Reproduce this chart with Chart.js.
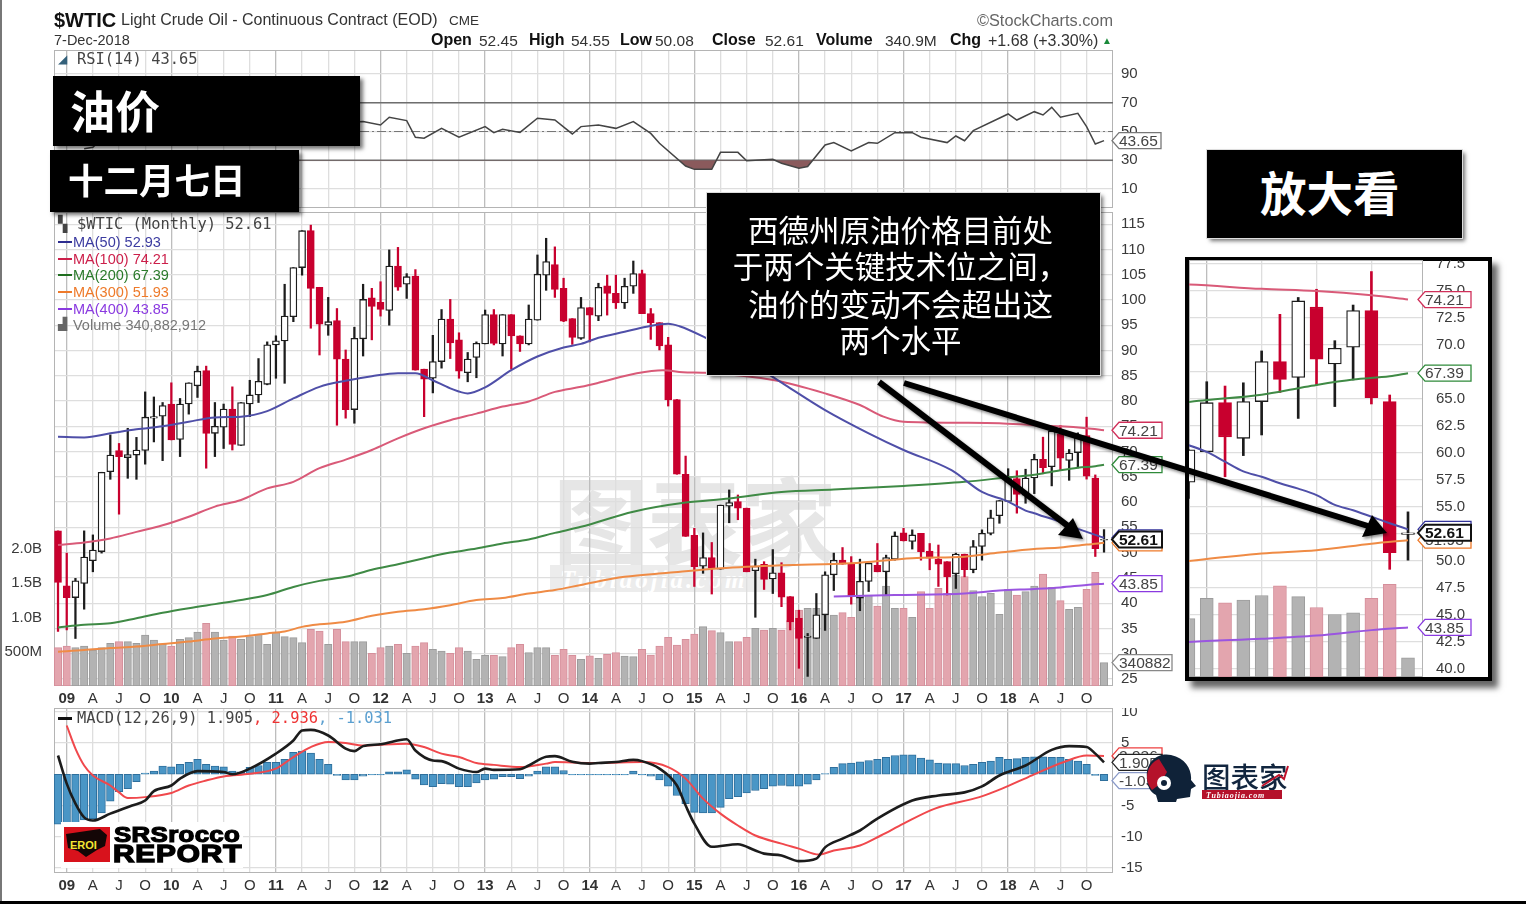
<!DOCTYPE html>
<html lang="zh"><head><meta charset="utf-8"><title>WTIC</title>
<script src="https://cdn.jsdelivr.net/npm/chart.js@4"></script>
<style>
html,body{margin:0;padding:0;background:#fff;width:1526px;height:904px;overflow:hidden}
canvas{position:absolute;filter:blur(.45px);z-index:2}
.t{position:absolute;white-space:pre;font-family:"Liberation Sans",sans-serif;color:#333;line-height:1;filter:blur(.3px);z-index:3}
.m{font-family:"DejaVu Sans Mono",monospace;font-size:15.4px;color:#444}
.b{font-weight:700;color:#111}
.box{position:absolute;background:#000;color:#fff;z-index:5;font-family:"Noto Sans CJK SC",sans-serif;box-shadow:3px 3px 4px rgba(0,0,0,.55)}
.box div{position:absolute;white-space:pre;line-height:1}
#inset{position:absolute;left:1185px;top:257px;width:299px;height:416px;border:4px solid #000;background:#fff;box-shadow:6px 7px 6px rgba(0,0,0,.6);z-index:1}
.wm{position:absolute;z-index:1;white-space:pre;font-family:"Noto Sans CJK SC",sans-serif;line-height:1}
svg{position:absolute;left:0;top:0;z-index:7}
</style></head><body>
<div style="position:absolute;left:0;top:0;width:2px;height:904px;background:#777;z-index:8"></div>
<div style="position:absolute;left:0;top:901px;width:1526px;height:3px;background:#000;z-index:8"></div>

<div class="wm" style="left:553px;top:469px;font-size:96px;font-weight:700;color:#e6e6e6;letter-spacing:-2px">图表家</div>
<div style="position:absolute;left:550px;top:565px;width:232px;height:27px;background:#ececec;z-index:1"></div>
<div class="wm" style="left:560px;top:566px;font:italic 700 25px 'Liberation Serif';color:#fff;letter-spacing:3px">Tubiaojia.com</div>

<canvas id="rsi" width="1180" height="158" style="left:0;top:50px"></canvas>
<canvas id="main" width="1180" height="496" style="left:0;top:212px"></canvas>
<canvas id="macd" width="1180" height="188" style="left:0;top:708px"></canvas>
<div id="inset"></div>
<canvas id="zoomc" width="290" height="417" style="left:1189px;top:260px;z-index:4"></canvas>

<div class="t b" style="left:54px;top:10px;font-size:20px">$WTIC</div>
<div class="t" style="left:121px;top:12px;font-size:16px">Light Crude Oil - Continuous Contract (EOD)</div>
<div class="t" style="left:449px;top:14px;font-size:13.5px">CME</div>
<div class="t" style="left:977px;top:12px;font-size:16.3px;color:#666">©StockCharts.com</div>
<div class="t" style="left:54px;top:33px;font-size:14.5px">7-Dec-2018</div>
<div class="t b" style="left:431px;top:32px;font-size:16px">Open</div><div class="t" style="left:479px;top:33px;font-size:15.5px">52.45</div>
<div class="t b" style="left:529px;top:32px;font-size:16px">High</div><div class="t" style="left:571px;top:33px;font-size:15.5px">54.55</div>
<div class="t b" style="left:620px;top:32px;font-size:16px">Low</div><div class="t" style="left:655px;top:33px;font-size:15.5px">50.08</div>
<div class="t b" style="left:712px;top:32px;font-size:16px">Close</div><div class="t" style="left:765px;top:33px;font-size:15.5px">52.61</div>
<div class="t b" style="left:816px;top:32px;font-size:16px">Volume</div><div class="t" style="left:885px;top:33px;font-size:15.5px">340.9M</div>
<div class="t b" style="left:950px;top:32px;font-size:16px">Chg</div><div class="t" style="left:988px;top:33px;font-size:16px">+1.68 (+3.30%)</div>
<div class="t" style="left:1102px;top:36px;font-size:10px;color:#1a8a3a">▲</div>

<div class="t m" style="left:58px;top:52px;color:#33607a">◢</div>
<div class="t m" style="left:77px;top:52px">RSI(14) 43.65</div>
<div class="t m" style="left:58px;top:217px">▚</div>
<div class="t m" style="left:77px;top:217px">$WTIC (Monthly) 52.61</div>
<div class="t" style="left:58px;top:241px;width:14px;height:2px;background:#2d2d90"></div><div class="t" style="left:73px;top:235px;font-size:14.5px;color:#3b3ba0">MA(50) 52.93</div>
<div class="t" style="left:58px;top:258px;width:14px;height:2px;background:#cc1f4a"></div><div class="t" style="left:73px;top:252px;font-size:14.5px;color:#cc1f4a">MA(100) 74.21</div>
<div class="t" style="left:58px;top:274px;width:14px;height:2px;background:#1f6e1f"></div><div class="t" style="left:73px;top:268px;font-size:14.5px;color:#2a7a2a">MA(200) 67.39</div>
<div class="t" style="left:58px;top:291px;width:14px;height:2px;background:#ee7a2a"></div><div class="t" style="left:73px;top:285px;font-size:14.5px;color:#ee7a2a">MA(300) 51.93</div>
<div class="t" style="left:58px;top:308px;width:14px;height:2px;background:#8a3ae0"></div><div class="t" style="left:73px;top:302px;font-size:14.5px;color:#8a3ae0">MA(400) 43.85</div>
<div class="t" style="left:58px;top:318px;font-size:12px;color:#666">▟</div><div class="t" style="left:73px;top:318px;font-size:14.5px;color:#777">Volume 340,882,912</div>
<div class="t" style="left:58px;top:717px;width:14px;height:3px;background:#111"></div>
<div class="t m" style="left:77px;top:711px">MACD(12,26,9) 1.905<span style="color:#ee3333">, 2.936</span><span style="color:#5a9fd0">, -1.031</span></div>

<div class="box" style="left:53px;top:76px;width:307px;height:70px"><div style="left:17px;top:11px;font-size:45px;font-weight:700">油价</div></div>
<div class="box" style="left:50px;top:150px;width:249px;height:62px"><div style="left:18px;top:11px;font-size:35.5px;font-weight:700">十二月七日</div></div>
<div class="box" style="left:1207px;top:150px;width:255px;height:88px;outline:1px solid #ddd"><div style="left:53px;top:18px;font-size:46.5px;font-weight:700">放大看</div></div>
<div class="box" style="left:707px;top:193px;width:393px;height:182px;outline:1px solid #ddd">
<div style="left:-3px;width:393px;text-align:center;top:21px;font-size:30.5px">西德州原油价格目前处</div>
<div style="left:-3px;width:393px;text-align:center;top:57px;font-size:30.5px">于两个关键技术位之间，</div>
<div style="left:-3px;width:393px;text-align:center;top:95px;font-size:30.5px">油价的变动不会超出这</div>
<div style="left:-3px;width:393px;text-align:center;top:131px;font-size:30.5px">两个水平</div>
</div>

<div style="position:absolute;left:61px;top:822px;width:182px;height:46px;background:#fff;z-index:6"></div>
<div class="t" style="left:114px;top:825px;font-size:21.5px;font-weight:700;color:#000;-webkit-text-stroke:1.2px #000;z-index:6;letter-spacing:.3px;transform:scaleX(1.2);transform-origin:0 0">SRSrocco</div>
<div class="t" style="left:113px;top:842px;font-size:24px;font-weight:700;color:#000;-webkit-text-stroke:1.4px #000;z-index:6;letter-spacing:.7px;transform:scaleX(1.24);transform-origin:0 0">REPORT</div>
<div class="t" style="left:1202px;top:762px;font-family:'Noto Sans CJK SC';font-size:28.5px;color:#12263f;z-index:6;font-weight:500">图表家</div>
<div style="position:absolute;left:1202px;top:790px;width:80px;height:9px;background:#b5122b;z-index:6"></div>
<div class="t" style="left:1206px;top:791px;font:italic 700 8px 'Liberation Serif';color:#fff;letter-spacing:.9px;z-index:6">Tubiaojia.com</div>

<svg width="1526" height="904" viewBox="0 0 1526 904">
<defs><filter id="sh" x="-10%" y="-10%" width="120%" height="120%"><feDropShadow dx="1.5" dy="2" stdDeviation="1.4" flood-color="#000" flood-opacity=".45"/></filter></defs>
<g filter="url(#sh)" fill="#000">
<line x1="879" y1="382" x2="1068" y2="526" stroke="#000" stroke-width="6"/>
<polygon points="1083,539 1058,535 1073,518"/>
<line x1="904" y1="383" x2="1368" y2="526" stroke="#000" stroke-width="6"/>
<polygon points="1387,533 1362,537 1372,515"/>
</g>
<rect x="64" y="827" width="46" height="35" fill="#d8121c"/>
<path d="M66 834 L100 829 L107 835 L105 846 L97 850 L86 857 L78 851 L68 848 Z" fill="#140606"/>
<text x="70" y="849" font-family="Liberation Sans" font-weight="700" font-size="11" fill="#f5e633">EROI</text>
<path d="M1147 778 C1145 762 1158 752 1171 755 C1186 758 1192 770 1191 780 L1196 786 L1191 789 L1190 797 L1177 799 L1176 802 L1158 802 L1156 795 C1150 792 1147 786 1147 778Z" fill="#0f2238"/>
<path d="M1147 778 C1147 768 1152 762 1159 759 L1167 772 L1160 784 L1152 790 C1149 786 1147 782 1147 778Z" fill="#b5122b"/>
<circle cx="1164" cy="783" r="7" fill="#fff"/><circle cx="1164" cy="783" r="3" fill="#0f2238"/>
<path d="M1262 786 L1279 775 L1284 779 L1288 766" fill="none" stroke="#c0122b" stroke-width="2"/>
</svg>

<script>
// ---- categories / ticks ----
const xTickIdx=[1,4,7,10,13,16,19,22,25,28,31,34,37,40,43,46,49,52,55,58,61,64,67,70,73,76,79,82,85,88,91,94,97,100,103,106,109,112,115,118];
const xTickLabels=["09","A","J","O","10","A","J","O","11","A","J","O","12","A","J","O","13","A","J","O","14","A","J","O","15","A","J","O","16","A","J","O","17","A","J","O","18","A","J","O"];
const priceTicks=[25,30,35,40,45,50,55,60,65,70,75,80,85,90,95,100,105,110,115];
const insetTicks=[40,42.5,45,47.5,50,52.5,55,57.5,60,62.5,65,67.5,70,72.5,75,77.5];
const volTicks=[500,1000,1500,2000];
const volTickLabels=["500M","1.0B","1.5B","2.0B"];
const rsiTicks=[10,30,50,70,90];
const macdTicks=[-15,-10,-5,5,10];
// ---- candles ----
const opens=[54.3,43.4,41.1,43.9,48.4,50.2,66.0,70.2,68.8,69.3,70.2,76.6,77.0,79.4,72.4,79.4,83.0,86.0,73.6,74.8,78.4,71.2,79.4,81.2,83.3,91.1,91.9,96.7,106.4,113.7,102.5,95.0,95.9,88.3,78.3,92.3,100.4,99.5,97.9,106.7,103.1,104.7,86.3,84.5,87.8,96.2,92.1,85.6,88.6,91.3,97.1,91.3,97.1,92.9,91.3,96.0,104.9,107.0,102.3,96.3,92.4,98.5,96.8,102.8,101.3,99.4,102.7,105.2,97.3,95.5,91.1,80.3,65.5,53.4,47.3,49.0,46.7,59.2,60.1,58.8,46.4,47.7,44.8,46.0,41.3,37.0,33.2,33.0,37.7,45.6,48.5,47.7,41.0,44.3,47.5,46.2,48.7,53.9,52.2,53.8,50.3,48.7,48.2,45.8,49.7,46.6,51.2,53.8,57.3,60.13,64.66,61.36,64.76,68.46,67.0,73.5,68.25,69.79,73.18,64.76,52.45];
const closes=[44.1,41.1,44.4,49.1,50.5,65.9,69.3,69.0,69.4,70.3,76.8,76.9,79.1,72.3,79.4,83.6,85.9,73.6,75.0,78.4,71.4,79.7,81.2,83.9,91.1,91.9,96.8,106.4,113.7,102.3,95.2,95.7,88.3,78.3,92.4,100.1,98.7,98.1,106.7,102.5,104.6,86.1,84.3,87.8,96.2,91.5,85.9,88.3,91.4,97.1,91.4,97.1,92.9,91.3,96.2,105.1,107.6,102.1,95.8,92.6,98.5,97.0,102.5,101.3,99.4,102.7,105.2,97.3,95.5,90.9,80.2,65.5,53.2,47.2,49.0,46.9,59.4,59.9,58.8,46.2,47.3,44.7,46.0,41.2,36.3,33.0,33.5,37.7,45.6,48.5,47.7,41.3,44.3,47.9,46.2,49.0,53.3,52.3,53.5,50.2,48.9,47.7,45.2,49.7,46.6,51.2,53.8,56.9,60.3,64.66,61.5,64.76,68.46,66.82,74.08,68.68,69.7,73.18,65.13,50.78,52.61];
const highs=[54.3,49.9,44.9,54.3,53.5,65.9,73.3,71.6,74.6,72.8,81.8,80.8,79.7,83.6,80.5,83.6,86.9,86.9,79.7,79.4,82.8,79.7,84.1,88.4,91.7,92.9,103.1,106.4,113.7,114.8,102.5,100.5,98.3,90.1,94.6,103.1,102.3,103.6,109.9,110.4,105.2,106.0,86.3,93.0,98.1,100.1,93.5,89.6,91.7,98.0,98.1,97.1,97.1,92.9,99.0,108.9,112.2,110.5,104.3,96.3,100.5,98.5,103.3,104.9,104.9,104.3,107.7,105.9,98.3,95.5,92.6,80.3,69.1,54.8,53.9,52.0,59.4,62.4,61.4,58.8,48.7,48.2,50.6,48.0,41.3,38.6,34.0,41.9,46.2,49.9,51.0,49.2,48.7,47.9,51.8,49.5,54.1,54.8,54.5,53.8,51.8,51.5,48.2,49.9,49.7,52.4,54.5,58.4,60.3,66.6,66.2,66.5,69.45,72.84,74.4,75.16,70.4,73.7,76.8,65.37,54.55];
const lows=[34.4,34.7,33.0,38.8,46.2,49.9,64.5,57.6,64.7,64.5,67.5,71.9,68.2,72.3,69.0,77.4,80.7,66.7,69.0,70.6,70.3,71.2,76.9,79.7,83.2,84.5,83.5,95.7,104.9,94.4,89.1,93.0,75.2,76.6,75.6,88.9,92.1,96.8,95.0,101.9,100.3,86.1,76.9,81.6,86.5,88.4,84.5,83.8,84.6,91.3,91.1,88.9,86.3,89.8,91.1,96.0,101.9,100.5,95.7,91.2,92.2,91.7,95.9,97.0,98.3,98.3,101.3,97.3,92.2,90.1,79.0,65.5,53.2,43.3,45.9,41.8,46.7,55.9,56.5,46.2,37.2,42.7,41.9,39.3,34.7,27.1,25.5,33.0,34.6,42.5,47.7,39.8,38.5,42.3,46.2,41.6,48.5,52.3,50.7,48.5,46.6,43.3,41.6,42.9,45.2,46.0,48.5,53.5,55.8,60.1,57.8,59.76,61.67,65.6,63.2,66.3,64.3,66.76,64.54,49.23,50.08];
// ---- volume, millions ----
const volumes=[559,583,559,583,525,559,622,646,646,622,744,671,608,583,680,705,787,914,787,671,729,680,719,753,608,787,719,705,632,826,802,608,826,646,646,646,476,559,583,608,476,583,632,535,510,476,559,510,389,447,447,428,559,608,486,559,559,447,535,447,389,440,403,462,486,437,428,535,452,583,710,598,680,758,865,807,778,646,646,710,841,816,841,816,953,1108,1132,1132,1035,1035,1069,1001,1302,1327,1166,1458,1132,1132,1001,1375,1132,1424,1351,1618,1594,1390,1302,1351,1045,1409,1327,1375,1458,1633,1439,1244,1118,1147,1409,1657,341];
// ---- moving averages (month index + value) ----
const ma50X=[0,3,6,9,12,15,18,21,24,27,30,33,36,39,41,43,45,47,49,52,55,58,60,62,65,67.5,70,71.3,74.2,78,83.4,88,93,97,102.5,106,109,110,111,112,113,114,115,116,117,118,119,120];
const ma50Y=[72.9,72.8,73.6,74.4,75,75.9,76.75,76.9,78,80.5,82.8,84,84.9,85.5,85.5,84.1,82.5,81.5,82.7,86.1,88.8,90.6,91.3,92.5,93.7,94.7,95.3,94.8,92.6,89.1,83.2,78.2,73.6,70.3,66.3,62,60.1,59.2,58.3,57.8,57.2,56.7,56.1,55.2,54.7,54.1,53.5,52.93];
const ma100X=[0,3,6,9,12,15,18,21,24,27,30,33,36,39,42,45,48,51,54,57,60,62,66.4,69.4,71.7,74.2,82.2,88,92,94.7,97,104,108,112,115,118,120];
const ma100Y=[51.5,52,52.8,54.1,55.4,57.1,59.1,60.4,62.7,64,66.7,68.4,70.3,72.6,74.6,76.2,77.5,78.9,79.9,81.8,82.8,83.6,85.5,86.1,85.7,85.6,84.1,81.5,79.2,76.9,75.9,75.7,75.6,75.2,75,74.6,74.21];
const ma200X=[0,3,6,9,12,15,18,21,24,27,30,33,36,39,42,45,48,51,54,57,60,66,72,77,83,89,97,104,109,112,114,115,117,119,120];
const ma200Y=[35.2,35.7,36,37,38.1,39,39.8,40.6,41.6,43.2,44.4,45.2,46.6,47.7,48.9,50,50.8,51.8,52.6,53.9,55.1,58.1,59.9,60.7,62,62.5,63.2,64,64.9,65.4,66,66.3,66.8,67.1,67.39];
const ma300X=[0,3,6,9,12,15,18,21,24,26,28,30,33,36,39,42,45,48,51,54,57,60,65,70,76,83,91,98,104,108,112,115,118,120];
const ma300Y=[30.4,30.7,31.1,31.4,31.9,32.4,33,33.4,34,34.4,35.3,35.8,36.3,37.5,38.3,38.8,39.6,40.6,41,41.9,42.6,43.6,45.2,46,46.9,47.5,47.9,48.9,49.2,50,50.7,51,51.6,51.93];
const ma400X=[89,96,104,108,112,115,118,120];
const ma400Y=[41.3,41.6,41.9,42.5,42.8,43.1,43.6,43.85];
// ---- RSI ----
const rsiX=[3,4,8,16,26,30,35,37,38,40,41,42,44,46,49,50,51,53,55,57,59,60,62,64,66,68,69,72,73,75,76,78,79,82,83,85,86,88,89,91,93,94,96,98,99,102,103,104,105,109,110,112,113,114,115,117,118,119,120];
const rsiY=[38,39,62,60,68,55,56.9,54.5,59.9,57.6,46,45.3,52.2,46,53.4,49.2,51.5,49.4,59.2,58,48.3,53.4,54.5,52.2,56.9,48.7,41.8,26,23.7,23.7,35.5,35.5,29.7,30.7,27.9,24.4,25.6,40.6,42.3,36.5,42.3,41.8,49.2,49.2,46,42.3,46.9,43.6,50.6,62.2,58,63.8,61.5,66.8,59.9,62.7,53.4,41.3,43.65];
// ---- MACD ----
const macdX=[0,1,2,3,4,6,8.5,10,11,13,14,16,19,20,22,25,27,28,29,31,33,34,35,37,40,41,43,44,46,48,49,50,53,54,56,57,59,61,62,64,66,67,69,71,72,73,75,78,80,81,83,85,87,88,90,92,94,98,101,104,106,108,111,114,116,118,119,120];
const macdY=[3,-1.5,-4.7,-6.9,-7.4,-6.3,-5,-4.2,-2.7,-1.8,-0.7,0.5,0.35,0,0.9,3.3,5.4,7,7.1,6.2,4.1,3.7,4.5,4.8,5.6,3.8,2.2,2.1,0.9,0.35,0.9,0.7,0.8,1.4,2.8,2.9,2,1.7,1.8,1.95,2.3,2.1,0.9,-1.8,-5,-7.9,-11.6,-11.2,-12.2,-12.7,-13,-13.9,-13.5,-11.7,-10.3,-9,-7.1,-4.2,-3.4,-2.9,-1.95,-0.2,1.4,3.9,4.5,4.35,3.3,1.905];
const signalX=[1,2,3,4,6,7,8,10,13,15,17,19,22,25,27,29,31,33,35,40,42,44,46,48,50,53,56,57,61,62,67,70,72,74,76,78,80,83,85,87.3,89,92,94.4,97,100.6,105.7,108.3,111.3,115.4,118,120];
const signalY=[7.8,4.1,1.4,-0.2,-1.8,-2.9,-3.8,-3.66,-3,-1.8,-1,-0.35,0.08,0.9,2.75,4.35,5.16,5,4.6,4.9,4.35,3.3,2.75,1.8,1.5,1.15,1.7,1.95,1.8,1.8,1.95,1.15,-0.7,-3.9,-6.3,-8.2,-9.8,-11.1,-11.9,-12.85,-12.2,-11.4,-9.8,-7.9,-5.5,-3.66,-2.3,-0.45,1.95,3,2.936];
const histY=[-8,-8,-7.8,-7.3,-7.1,-6.2,-4.3,-2.8,-2.3,-1.2,0.2,0.5,1.3,1.2,1.6,1.9,2.4,1.6,1.3,1.2,0.5,0.4,1.1,1.4,1.9,1.9,2.4,3.5,3.7,3.4,2.4,1.6,-0.2,-0.9,-0.9,-0.3,-0.1,-0.1,0.4,0.4,0.7,-0.8,-1.7,-2,-1.5,-1.6,-2,-2,-1.4,-0.9,-0.8,-0.4,-0.4,-0.7,-0.3,0.5,1.2,1.2,0.6,-0.1,-0.1,-0.1,-0.1,-0.1,-0.1,-0.1,0.5,-0.1,-0.3,-0.9,-1.9,-3.4,-4.7,-6.1,-6.2,-6.2,-5.3,-3.9,-3.6,-3,-2.6,-2.3,-1.9,-1.8,-1.9,-1.9,-1.6,-0.9,0.1,1.1,1.7,1.8,2,2.2,2.4,2.7,3,3.1,3.1,2.6,2.3,1.8,1.7,1.7,1.4,1.6,1.9,2.1,2.7,2.4,2.5,2.7,2.8,2.8,2.7,2.7,2.4,2.1,1.6,-0.2,-1.03];

// ---- helpers ----
const pts=(xs,ys)=>xs.map((x,k)=>({x,y:ys[k]}));
const RED='#c8002e';
const isDown=i=>closes[i]<opens[i];
const idx=opens.map((_,i)=>i);
const wickData=idx.map(i=>({x:i,y:[lows[i],highs[i]]}));
const bodyData=idx.map(i=>({x:i,y:[opens[i],closes[i]]}));
const volData=idx.map(i=>({x:i,y:volumes[i]}));
const FONT='"Liberation Sans"';
const noPad=s=>{s.paddingTop=0;s.paddingBottom=0;s.paddingLeft=0;s.paddingRight=0;};
const tagPlugin={id:'tags',afterDraw(c,a,o){const g=c.ctx;
  (o.list||[]).forEach(t=>{const y=c.scales[t.s].getPixelForValue(t.v),h=t.h||8,x0=t.x0,x1=t.x1;
    g.save();g.beginPath();g.moveTo(x0,y);g.lineTo(x0+7,y-h);g.lineTo(x1,y-h);g.lineTo(x1,y+h);g.lineTo(x0+7,y+h);g.closePath();
    g.fillStyle='#fff';g.fill();g.lineWidth=t.lw||1.3;g.strokeStyle=t.c;g.stroke();
    g.fillStyle=t.tc||'#444';g.font=(t.bold?'700 ':'')+(t.fs||15.5)+'px '+FONT;g.textBaseline='middle';g.textAlign='left';g.fillText(t.t,x0+7,y+1);g.restore();});
}};
const framePlugin={id:'frame',beforeDatasetsDraw(c){const g=c.ctx,a=c.chartArea;g.save();g.strokeStyle='#b4b4b4';g.lineWidth=1;g.strokeRect(a.left+.5,a.top+.5,a.right-a.left-1,a.bottom-a.top-1);g.restore();}};
const gridColor=ctx=>{const v=ctx.tick?ctx.tick.value:0;return ((v-1)%12===0)?'#bdbdbd':'#dedede';};
const isYearTick=v=>/\d/.test(xTickLabels[xTickIdx.indexOf(v)]||'');
function xAxis(h,showLabels,min,max){return {type:'linear',min,max,offset:false,
  grid:{color:gridColor,lineWidth:1.3,offset:false,drawTicks:false},border:{display:false},
  afterBuildTicks:s=>{s.ticks=xTickIdx.filter(v=>v>=min&&v<=max).map(v=>({value:v}));},
  afterFit:s=>{s.height=h;noPad(s);},
  ticks:{display:showLabels,autoSkip:false,maxRotation:0,minRotation:0,padding:4,
    callback:v=>xTickLabels[xTickIdx.indexOf(v)],
    font:ctx=>({family:FONT,size:15,weight:(ctx.tick&&isYearTick(ctx.tick.value))?'700':'400'}),
    color:'#333'}};}
function yAxis(ticks,min,max,w,pad,fmt,pos){return {type:'linear',position:pos||'right',min,max,
  grid:{color:'#dedede',lineWidth:1.2,drawTicks:false},border:{display:false},
  afterBuildTicks:s=>{s.ticks=ticks.map(v=>({value:v}));},
  afterFit:s=>{s.width=w;noPad(s);},
  ticks:{padding:pad,autoSkip:false,callback:fmt||(v=>v),font:{family:FONT,size:15},color:'#3a3a3a'}};}
const mk=(id,cfg)=>new Chart(document.getElementById(id),Object.assign(cfg,{plugins:[framePlugin,tagPlugin]}));
const base={responsive:false,animation:false,devicePixelRatio:1,events:[]};
const maLine=(xs,ys,c,w,yid)=>({type:'line',data:pts(xs,ys),borderColor:c,borderWidth:w,pointRadius:0,cubicInterpolationMode:'monotone',order:1,yAxisID:yid||'y',fill:false});
const priceSets=(bw,ww,vw)=>[
  {type:'bar',data:volData,yAxisID:'vol',barThickness:vw,grouped:false,order:9,
   backgroundColor:idx.map(i=>isDown(i)?'#e3a5ae':'#b3b3b3'),borderColor:idx.map(i=>isDown(i)?'#d58f9b':'#9c9c9c'),borderWidth:1,borderSkipped:false},
  {type:'bar',data:wickData,yAxisID:'y',barThickness:ww,grouped:false,order:8,backgroundColor:idx.map(i=>isDown(i)?RED:'#1c1c1c'),borderWidth:0},
  {type:'bar',data:bodyData,yAxisID:'y',barThickness:bw,grouped:false,order:7,backgroundColor:idx.map(i=>isDown(i)?RED:'#fff'),borderColor:idx.map(i=>isDown(i)?RED:'#1c1c1c'),borderWidth:1.3,borderSkipped:false},
  maLine(ma50X,ma50Y,'#4f4fa8',2),maLine(ma100X,ma100Y,'#d95a78',2),maLine(ma200X,ma200Y,'#3f8a45',2),maLine(ma300X,ma300Y,'#ef8b45',2),maLine(ma400X,ma400Y,'#9a55e0',2)];

// ---- RSI panel ----
const XMIN=-0.46,XMAX=121.03;
mk('rsi',{type:'line',data:{datasets:[
  {data:pts([XMIN,XMAX],[70,70]),borderColor:'#6e6e6e',borderWidth:1.6,pointRadius:0,order:3},
  {data:pts([XMIN,XMAX],[50,50]),borderColor:'#777',borderWidth:1.2,borderDash:[9,3,2,3],pointRadius:0,order:3},
  {data:pts([XMIN,XMAX],[30,30]),borderColor:'#6e6e6e',borderWidth:1.6,pointRadius:0,order:3},
  {data:pts(rsiX,rsiY),borderColor:'#444',borderWidth:1.5,pointRadius:0,order:1,fill:{target:{value:30},above:'rgba(0,0,0,0)',below:'#8a5a5c'}}
]},options:Object.assign({},base,{layout:{padding:{left:54}},
  plugins:{legend:{display:false},tooltip:{enabled:false},tags:{list:[{s:'y',v:43.65,t:'43.65',c:'#777',x0:1112,x1:1161,h:8}]}},
  scales:{x:xAxis(0,false,XMIN,XMAX),y:yAxis(rsiTicks,-3.2,106.7,67,8)}})});

// ---- price panel ----
mk('main',{type:'bar',data:{datasets:priceSets(7,1.6,7.4)},options:Object.assign({},base,{layout:{padding:0},
  plugins:{legend:{display:false},tooltip:{enabled:false},tags:{list:[
   {s:'y',v:43.85,t:'43.85',c:'#8a3ae0',x0:1112,x1:1162},
   {s:'y',v:67.39,t:'67.39',c:'#2f8a3a',x0:1112,x1:1162},
   {s:'y',v:74.21,t:'74.21',c:'#d0305a',x0:1112,x1:1162},
   {s:'y',v:51.93,t:'51.93',c:'#ee7a2a',x0:1112,x1:1162},
   {s:'y',v:52.93,t:'52.93',c:'#33339a',x0:1112,x1:1162},
   {s:'y',v:52.61,t:'52.61',c:'#111',tc:'#111',bold:true,lw:2,x0:1112,x1:1162},
   {s:'vol',v:340.88,t:'340882',c:'#888',x0:1112,x1:1172}]}},
  scales:{x:xAxis(22,true,XMIN,XMAX),
    y:yAxis(priceTicks,23.6,117.4,67,8),
    vol:Object.assign(yAxis(volTicks,0,6910,54,4,v=>volTickLabels[volTicks.indexOf(v)],'left'),{grid:{display:false}})}})});

// ---- MACD panel ----
mk('macd',{type:'bar',data:{datasets:[
  {type:'bar',data:idx.map(i=>({x:i,y:histY[i]})),barThickness:7.6,grouped:false,order:5,backgroundColor:'#4a96c6',borderColor:'#2f6f9c',borderWidth:1,borderSkipped:false},
  {type:'line',data:pts(signalX,signalY),borderColor:'#f0484c',borderWidth:2,pointRadius:0,cubicInterpolationMode:'monotone',order:2},
  {type:'line',data:pts(macdX,macdY),borderColor:'#1c1c1c',borderWidth:2.6,pointRadius:0,cubicInterpolationMode:'monotone',order:1}
]},options:Object.assign({},base,{layout:{padding:{left:54}},
  plugins:{legend:{display:false},tooltip:{enabled:false},tags:{list:[
   {s:'y',v:2.936,t:'2.936',c:'#ee4040',x0:1112,x1:1162},
   {s:'y',v:-1.031,t:'-1.031',c:'#8a9ac8',x0:1112,x1:1162},
   {s:'y',v:1.905,t:'1.905',c:'#222',x0:1112,x1:1162}]}},
  scales:{x:xAxis(23,true,XMIN,XMAX),y:yAxis(macdTicks,-15.8,10.6,67,8)}})});

// ---- magnified inset ----
mk('zoomc',{type:'bar',data:{datasets:priceSets(13,2,13)},options:Object.assign({},base,{layout:{padding:0},
  plugins:{legend:{display:false},tooltip:{enabled:false},tags:{list:[
   {s:'y',v:43.85,t:'43.85',c:'#8a3ae0',x0:229,x1:282},
   {s:'y',v:67.39,t:'67.39',c:'#2f8a3a',x0:229,x1:282},
   {s:'y',v:74.21,t:'74.21',c:'#d0305a',x0:229,x1:282},
   {s:'y',v:51.93,t:'51.93',c:'#ee7a2a',x0:229,x1:282},
   {s:'y',v:52.93,t:'52.93',c:'#33339a',x0:229,x1:282},
   {s:'y',v:52.61,t:'52.61',c:'#111',tc:'#111',bold:true,lw:2,x0:229,x1:282}]}},
  scales:{x:xAxis(0,false,108.03,120.82),
    y:yAxis(insetTicks,39.26,77.87,56,13,v=>Number(v).toFixed(1)),
    vol:Object.assign(yAxis([0],0,7460,0,0,v=>'','left'),{display:false})}})});
</script>
</body></html>
